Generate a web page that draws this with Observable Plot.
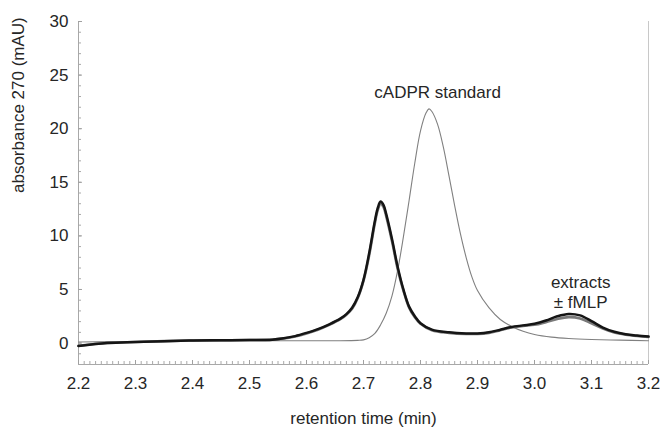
<!DOCTYPE html>
<html>
<head>
<meta charset="utf-8">
<script src="https://cdn.jsdelivr.net/npm/d3@7"></script>
<script src="https://cdn.jsdelivr.net/npm/@observablehq/plot@0.6"></script>
<style>
  html, body { margin: 0; padding: 0; background: #fff; }
  #chart svg { display: block; }
</style>
</head>
<body>
<div id="chart"></div>
<script>
// ---- data ----
const extractTime = [2.20, 2.25, 2.30, 2.35, 2.40, 2.45, 2.50, 2.54, 2.56, 2.58, 2.60, 2.62, 2.64, 2.66, 2.67, 2.68, 2.69, 2.70, 2.71, 2.72, 2.725, 2.73, 2.735, 2.74, 2.75, 2.76, 2.77, 2.78, 2.79, 2.80, 2.82, 2.85, 2.88, 2.90, 2.92, 2.94, 2.96, 2.98, 3.00, 3.02, 3.04, 3.06, 3.08, 3.10, 3.12, 3.14, 3.16, 3.18, 3.20];
const extractPlusFMLP = [-0.28, 0.0, 0.1, 0.18, 0.24, 0.26, 0.28, 0.32, 0.45, 0.65, 0.95, 1.3, 1.75, 2.3, 2.7, 3.3, 4.3, 5.9, 8.4, 11.4, 12.6, 13.2, 12.9, 12.0, 9.7, 7.1, 5.0, 3.4, 2.5, 1.85, 1.25, 1.0, 0.9, 0.9, 1.0, 1.25, 1.5, 1.65, 1.8, 2.1, 2.5, 2.72, 2.58, 2.05, 1.45, 1.05, 0.82, 0.7, 0.62];
const extractMinusFMLP = [-0.25, 0.0, 0.1, 0.18, 0.24, 0.26, 0.28, 0.32, 0.42, 0.62, 0.9, 1.25, 1.7, 2.25, 2.65, 3.2, 4.2, 5.8, 8.2, 11.2, 12.4, 13.0, 12.7, 11.8, 9.5, 6.9, 4.9, 3.3, 2.4, 1.8, 1.2, 0.95, 0.85, 0.85, 0.95, 1.2, 1.45, 1.6, 1.7, 1.95, 2.25, 2.42, 2.3, 1.85, 1.35, 0.98, 0.78, 0.66, 0.58];
const standardTime = [2.20, 2.30, 2.40, 2.50, 2.60, 2.65, 2.69, 2.70, 2.71, 2.72, 2.73, 2.74, 2.75, 2.76, 2.77, 2.78, 2.79, 2.80, 2.81, 2.815, 2.82, 2.83, 2.84, 2.85, 2.86, 2.87, 2.88, 2.89, 2.90, 2.92, 2.94, 2.96, 2.98, 3.00, 3.03, 3.06, 3.10, 3.15, 3.20];
const standardAbs = [0.1, 0.15, 0.2, 0.22, 0.22, 0.22, 0.25, 0.3, 0.5, 0.9, 1.7, 2.8, 4.4, 6.8, 9.9, 13.3, 16.8, 19.8, 21.5, 21.85, 21.6, 20.4, 18.3, 15.6, 12.8, 10.2, 8.0, 6.2, 4.9, 3.3, 2.2, 1.55, 1.1, 0.8, 0.55, 0.42, 0.33, 0.27, 0.22];

const xTicks = [2.2, 2.3, 2.4, 2.5, 2.6, 2.7, 2.8, 2.9, 3.0, 3.1, 3.2];
const yTicks = [0, 5, 10, 15, 20, 25, 30];
const xMinor = d3.range(220, 321).map(d => d / 100);
const yMinor = d3.range(-2, 31);

const xLabel = "retention time (min)";
const yLabel = "absorbance 270 (mAU)";
const annotations = [
  {t: 2.830, v: 23.45, text: "cADPR standard"},
  {t: 3.081, v: 4.8, text: "extracts\n± fMLP"}
];

// ---- tables for the library ----
const extractRows = extractTime.flatMap((t, i) => [
  {t, v: extractMinusFMLP[i], s: "minus"},
  {t, v: extractPlusFMLP[i], s: "plus"}
]);
const standardRows = standardTime.map((t, i) => ({t, v: standardAbs[i]}));

const W = 663, H = 431;
const mL = 78, mR = 15, mT = 21, mB = 67;
const frameW = W - mL - mR, frameH = H - mT - mB;

const chart = Plot.plot({
  width: W,
  height: H,
  marginLeft: mL,
  marginRight: mR,
  marginTop: mT,
  marginBottom: mB,
  style: {fontFamily: "'Liberation Sans', Arial, sans-serif", fontSize: "17px", color: "#262626", background: "#fff"},
  x: {domain: [2.2, 3.2]},
  y: {domain: [-2, 30]},
  marks: [
    // frame lines
    Plot.ruleY([-2], {stroke: "#a8a8a8", strokeWidth: 1}),
    Plot.ruleX([2.2], {stroke: "#a8a8a8", strokeWidth: 1}),
    Plot.ruleX([3.2], {stroke: "#c8c8c8", strokeWidth: 1}),
    // minor / major ticks pointing inward
    Plot.tickX(xMinor, {x: d => d, insetTop: frameH - 3, stroke: "#a8a8a8", strokeWidth: 1}),
    Plot.tickX(xTicks, {x: d => d, insetTop: frameH - 4, stroke: "#a0a0a0", strokeWidth: 1}),
    Plot.tickY(yMinor, {y: d => d, insetRight: frameW - 3, stroke: "#a8a8a8", strokeWidth: 1}),
    Plot.tickY(yTicks, {y: d => d, insetRight: frameW - 4, stroke: "#a0a0a0", strokeWidth: 1}),
    Plot.axisX({ticks: xTicks, tickSize: 0, tickPadding: 12, tickFormat: d3.format(".1f"), label: null, fontSize: 17}),
    Plot.axisY({ticks: yTicks, tickSize: 0, tickPadding: 10, label: null, fontSize: 17}),
    // curves
    Plot.lineY(standardRows, {x: "t", y: "v", stroke: "#808080", strokeWidth: 1.1, curve: "catmull-rom"}),
    Plot.lineY(extractRows, {x: "t", y: "v", z: "s", stroke: d => d.s === "plus" ? "#151515" : "#7a7a7a", strokeWidth: d => d.s === "plus" ? 2.5 : 2.6, curve: "catmull-rom"}),
    // annotations
    Plot.text(annotations, {x: "t", y: "v", text: "text", fontSize: 17, fill: "#262626", lineHeight: 1.18}),
    // axis titles
    Plot.text([xLabel], {frameAnchor: "bottom", dy: 59, fontSize: 17, fill: "#262626"}),
    Plot.text([yLabel], {frameAnchor: "left", dx: -60, rotate: -90, fontSize: 17, fill: "#262626"})
  ]
});
document.getElementById("chart").appendChild(chart);
</script>
</body>
</html>
